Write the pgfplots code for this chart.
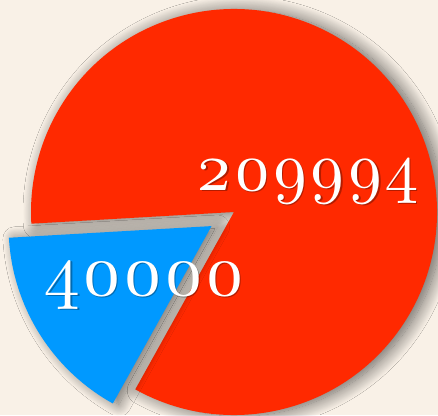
\documentclass[border=0pt]{standalone}
\usepackage{pgfplots}
\pgfplotsset{compat=1.18}
\usepackage{pgfplotstable}
\usepackage{fontspec}
\newfontfamily\lmosf[Numbers=OldStyle]{Latin Modern Roman}
\usetikzlibrary{shadows.blur}
\definecolor{bg}{RGB}{249,241,231}
\definecolor{piered}{RGB}{255,41,0}
\definecolor{pieblue}{RGB}{0,153,255}
\pgfplotstableread{
label value
A 209994
B 40000
}\piedata
\pgfplotstablegetelem{0}{value}\of\piedata \edef\va{\pgfplotsretval}
\pgfplotstablegetelem{1}{value}\of\piedata \edef\vb{\pgfplotsretval}
\edef\bstart{183.3}
\edef\bend{\fpeval{183.3+360*\vb/(\va+\vb)}}
\edef\rend{\fpeval{183.3+360}}
\edef\bmid{\fpeval{183.3+180*\vb/(\va+\vb)}}
\begin{document}
\begin{tikzpicture}
\begin{axis}[name=ax, width=438pt, height=415pt, scale only axis,
  xmin=0, xmax=438, ymin=0, ymax=415, hide axis, clip=true]
\fill[bg] (axis cs:0,0) rectangle (axis cs:438,415);
% red slice (gap on the side of the exploded blue slice)
\fill[piered, blur shadow={shadow xshift=6pt, shadow yshift=-1pt, shadow blur radius=14pt, shadow blur steps=20, shadow opacity=60}]
  (axis cs:234,203) -- ++(\bend:203pt) arc[start angle=\bend, end angle=\rend, radius=203pt] -- cycle;
% blue slice, exploded along its middle angle
\fill[pieblue, blur shadow={shadow xshift=6pt, shadow yshift=-1pt, shadow blur radius=12pt, shadow blur steps=20, shadow opacity=55}]
  (axis cs:234,203) ++(\bmid:26.5pt) -- ++(\bstart:203pt) arc[start angle=\bstart, end angle=\bend, radius=203pt] -- cycle;
% labels with a soft drop shadow
\node[anchor=base, scale=6.7, text=black, opacity=0.3, font=\lmosf] at (axis cs:309,223.5) {209994};
\node[anchor=base, scale=6.7, text=white, font=\lmosf] at (axis cs:307.5,225) {209994};
\node[anchor=base, scale=7.2, text=black, opacity=0.3, font=\lmosf] at (axis cs:146,118.5) {40000};
\node[anchor=base, scale=7.2, text=white, font=\lmosf] at (axis cs:144.5,120) {40000};
\end{axis}
\pgfresetboundingbox
\useasboundingbox (ax.south west) rectangle (ax.north east);
\end{tikzpicture}
\end{document}
